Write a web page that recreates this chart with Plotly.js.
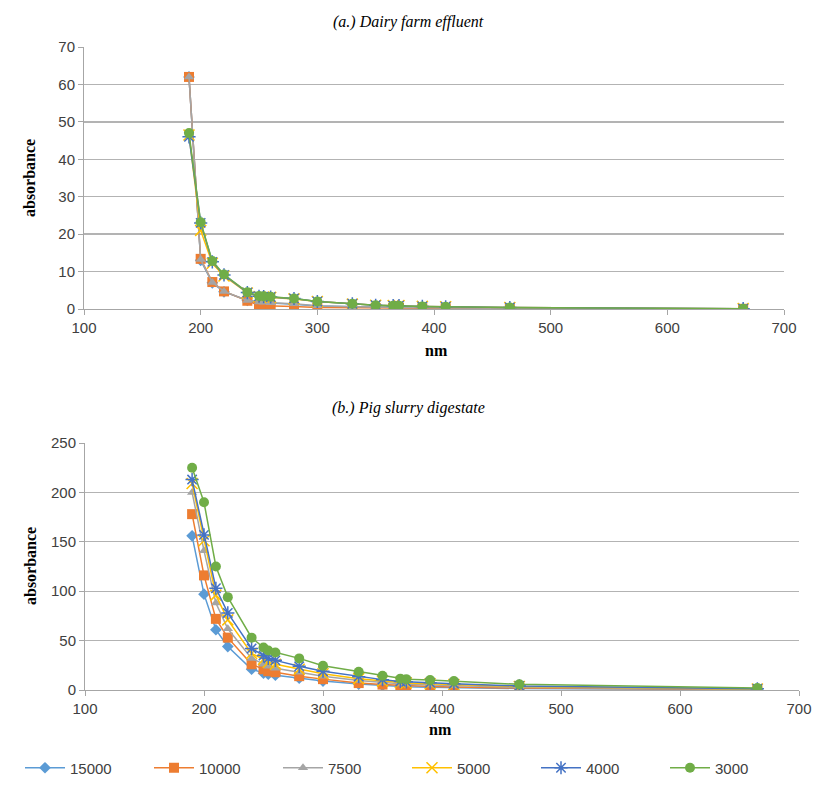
<!DOCTYPE html>
<html>
<head>
<meta charset="utf-8">
<script src="https://cdn.plot.ly/plotly-3.0.1.min.js"></script>
<style>html,body{margin:0;padding:0;background:#fff;}#chart{width:814px;height:789px;}</style>
</head>
<body>
<div id="chart"></div>
<script>
// Wavelengths (nm)
const wavelengths = [190, 200, 210, 220, 240, 250, 254, 260, 280, 300, 330, 350, 365, 370, 390, 410, 465, 665];
const seriesNames = ["15000", "10000", "7500", "5000", "4000", "3000"];

// (a) Dairy farm effluent
const dairy15000 = [62, 13.0, 7.0, 4.6, 2.3, 1.8, 1.7, 1.6, 1.3, 0.8, 0.6, 0.5, 0.4, 0.4, 0.3, 0.3, 0.2, 0.05];
const dairy10000 = [62, 13.4, 7.2, 4.7, 2.2, 1.0, 0.9, 0.9, 0.7, 0.4, 0.3, 0.3, 0.3, 0.3, 0.2, 0.2, 0.1, 0.05];
const dairy7500  = [62, 13.2, 7.1, 4.7, 2.3, 1.9, 1.8, 1.7, 1.4, 0.9, 0.6, 0.5, 0.5, 0.5, 0.4, 0.3, 0.2, 0.05];
const dairy5000  = [46.5, 21.0, 12.2, 8.8, 4.3, 3.3, 3.2, 3.1, 2.7, 2.0, 1.3, 1.0, 0.9, 0.9, 0.7, 0.6, 0.4, 0.1];
const dairy4000  = [46.0, 23.0, 12.6, 9.1, 4.4, 3.4, 3.3, 3.2, 2.8, 2.0, 1.4, 1.0, 0.9, 0.9, 0.7, 0.6, 0.4, 0.1];
const dairy3000  = [47.0, 23.2, 12.8, 9.2, 4.5, 3.5, 3.4, 3.3, 2.8, 2.0, 1.4, 1.0, 0.9, 0.9, 0.7, 0.6, 0.4, 0.1];

// (b) Pig slurry digestate
const pig15000 = [156, 97, 61, 44, 21, 17, 16, 15, 12, 9, 6, 4.5, 3.5, 3.3, 2.8, 2.3, 1.5, 0.4];
const pig10000 = [178, 116, 72, 53, 26, 21, 19, 18, 14, 11, 7, 5.5, 4.5, 4.3, 3.6, 3.0, 2.0, 0.6];
const pig7500  = [200, 141, 88, 62, 32, 26, 24, 22, 18, 14, 9.5, 7.5, 6.0, 5.8, 5.0, 4.3, 2.8, 0.8];
const pig5000  = [209, 151, 96, 71, 37, 31, 28, 26, 21, 16.5, 11.5, 9.0, 7.5, 7.2, 6.3, 5.5, 3.5, 1.0];
const pig4000  = [213, 157, 103, 78, 42, 35, 32, 30, 24, 19, 13.5, 10.5, 8.6, 8.3, 7.3, 6.4, 4.1, 1.2];
const pig3000  = [225, 190, 125, 94, 53, 43, 40, 38, 32, 24.5, 18.5, 14.5, 11.5, 11.0, 10.0, 9.0, 5.7, 2.0];

const dairySeries = [dairy15000, dairy10000, dairy7500, dairy5000, dairy4000, dairy3000];
const pigSeries = [pig15000, pig10000, pig7500, pig5000, pig4000, pig3000];

const colors = ["#5B9BD5", "#ED7D31", "#A5A5A5", "#FFC000", "#4472C4", "#70AD47"];
const symbols = ["diamond", "square", "triangle-up", "x-thin-open", "asterisk-open", "circle"];
const sizes = [9, 10, 9, 11, 11, 10];

const traces = [];
function makeTrace(ys, i, xa, ya, show) {
  return {
    x: wavelengths, y: ys, name: seriesNames[i], type: "scatter", mode: "lines+markers",
    xaxis: xa, yaxis: ya, showlegend: show,
    line: {color: colors[i], width: 1.5},
    marker: {symbol: symbols[i], size: sizes[i], color: colors[i],
             line: {color: colors[i], width: (i === 3 || i === 4) ? 1.5 : 0}}
  };
}
dairySeries.forEach((ys, i) => traces.push(makeTrace(ys, i, "x", "y", false)));
pigSeries.forEach((ys, i) => traces.push(makeTrace(ys, i, "x2", "y2", true)));

const W = 814, H = 789;
const tickFont = {family: "Liberation Sans Narrow, Liberation Sans, Arial", size: 15, color: "#404040"};
const axisCommon = {
  showline: true, linecolor: "#a6a6a6", linewidth: 1,
  ticks: "outside", ticklen: 5, tickcolor: "#a6a6a6", tickwidth: 1,
  tickfont: tickFont, zeroline: false, fixedrange: true
};

const layout = {
  width: W, height: H,
  margin: {l: 0, r: 0, t: 0, b: 0},
  paper_bgcolor: "#ffffff", plot_bgcolor: "#ffffff",
  showlegend: true,
  xaxis: Object.assign({}, axisCommon, {
    domain: [84 / W, 784 / W], range: [100, 700], dtick: 100, tick0: 100,
    showgrid: false, anchor: "y"
  }),
  yaxis: Object.assign({}, axisCommon, {
    domain: [1 - 309 / H, 1 - 47 / H], range: [0, 70], dtick: 10,
    showgrid: true, gridcolor: "#b3b3b3", gridwidth: 1.3, anchor: "x"
  }),
  xaxis2: Object.assign({}, axisCommon, {
    domain: [85 / W, 799 / W], range: [100, 700], dtick: 100, tick0: 100,
    showgrid: false, anchor: "y2"
  }),
  yaxis2: Object.assign({}, axisCommon, {
    domain: [1 - 690 / H, 1 - 443 / H], range: [0, 250], dtick: 50,
    showgrid: true, gridcolor: "#b3b3b3", gridwidth: 1.3, anchor: "x2"
  }),
  legend: {
    orientation: "h", x: 0.5, xanchor: "center", y: 1 - 768 / H, yanchor: "middle",
    font: {family: "Liberation Sans Narrow, Liberation Sans, Arial", size: 15, color: "#404040"},
    entrywidth: 74, entrywidthmode: "pixels", itemwidth: 40, bgcolor: "rgba(0,0,0,0)"
  },
  annotations: [
    {text: "<i>(a.) Dairy farm effluent</i>", xref: "paper", yref: "paper", x: 408 / W, y: 1 - 22 / H,
     xanchor: "center", yanchor: "middle", showarrow: false,
     font: {family: "Liberation Serif, serif", size: 16, color: "#000"}},
    {text: "<i>(b.) Pig slurry digestate</i>", xref: "paper", yref: "paper", x: 408 / W, y: 1 - 408 / H,
     xanchor: "center", yanchor: "middle", showarrow: false,
     font: {family: "Liberation Serif, serif", size: 16, color: "#000"}},
    {text: "<b>absorbance</b>", xref: "paper", yref: "paper", x: 30 / W, y: 1 - 178 / H,
     xanchor: "center", yanchor: "middle", textangle: -90, showarrow: false,
     font: {family: "Liberation Serif, serif", size: 16, color: "#000"}},
    {text: "<b>absorbance</b>", xref: "paper", yref: "paper", x: 30 / W, y: 1 - 566 / H,
     xanchor: "center", yanchor: "middle", textangle: -90, showarrow: false,
     font: {family: "Liberation Serif, serif", size: 16, color: "#000"}},
    {text: "<b>nm</b>", xref: "paper", yref: "paper", x: 436 / W, y: 1 - 350 / H,
     xanchor: "center", yanchor: "middle", showarrow: false,
     font: {family: "Liberation Serif, serif", size: 16, color: "#000"}},
    {text: "<b>nm</b>", xref: "paper", yref: "paper", x: 440 / W, y: 1 - 729 / H,
     xanchor: "center", yanchor: "middle", showarrow: false,
     font: {family: "Liberation Serif, serif", size: 16, color: "#000"}}
  ]
};

Plotly.newPlot("chart", traces, layout, {displayModeBar: false, staticPlot: true});
</script>
</body>
</html>
